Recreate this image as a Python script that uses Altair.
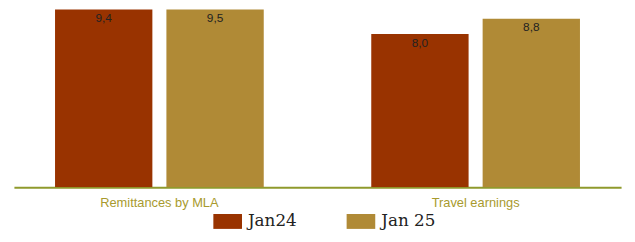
import altair as alt
import pandas as pd

categories = ["Remittances by MLA", "Travel earnings"]
series = ["Jan24", "Jan 25"]
jan24 = [9.4, 8.0]
jan25 = [9.5, 8.8]
value_labels_24 = ["9,4", "8,0"]
value_labels_25 = ["9,5", "8,8"]

rows = []
for i, c in enumerate(categories):
    rows.append({"cat": c, "series": series[0], "value": jan24[i], "label": value_labels_24[i]})
    rows.append({"cat": c, "series": series[1], "value": jan25[i], "label": value_labels_25[i]})
df = pd.DataFrame(rows)

colors = ["#993300", "#b08a36"]
ymax = 9.28

x = alt.X("cat:N", sort=categories, title=None,
          scale=alt.Scale(paddingInner=0.34, paddingOuter=0.13),
          axis=alt.Axis(labelAngle=0, domainColor="#8f9a2c", domainWidth=2, ticks=False,
                        labelColor="#a89a2e", labelFont="Liberation Sans", labelFontSize=13,
                        labelPadding=10))
xo = alt.XOffset("series:N", sort=series, scale=alt.Scale(paddingInner=0.126))
yscale = alt.Scale(domain=[0, ymax])

bars = alt.Chart(df).mark_bar(clip=True).encode(
    x=x, xOffset=xo,
    y=alt.Y("value:Q", scale=yscale, axis=None),
    color=alt.Color("series:N", sort=series,
                    scale=alt.Scale(domain=series, range=colors),
                    legend=alt.Legend(title=None, orient="none", direction="horizontal",
                                      legendX=202, legendY=200,
                                      symbolType="M-1,-0.52H1V0.52H-1Z", symbolSize=841,
                                      symbolStrokeWidth=0, symbolOpacity=1,
                                      labelFont="DejaVu Serif", labelFontSize=17,
                                      labelColor="#222222", labelOffset=6,
                                      columnPadding=50, padding=0)),
)

texts = alt.Chart(df).transform_calculate(
    ypos=f"min(datum.value, {ymax})"
).mark_text(baseline="top", dy=4, font="Liberation Sans",
            fontSize=12, color="#222222").encode(
    x=x, xOffset=xo,
    y=alt.Y("ypos:Q", scale=yscale, axis=None),
    text="label:N",
)

chart = alt.layer(bars, texts).properties(
    width=615, height=180,
    autosize=alt.AutoSizeParams(type="none"),
    padding={"left": 6, "top": 0, "right": 6, "bottom": 46},
).configure_view(stroke=None)

chart.save("out.html", embed_options={"renderer": "svg", "actions": False})
